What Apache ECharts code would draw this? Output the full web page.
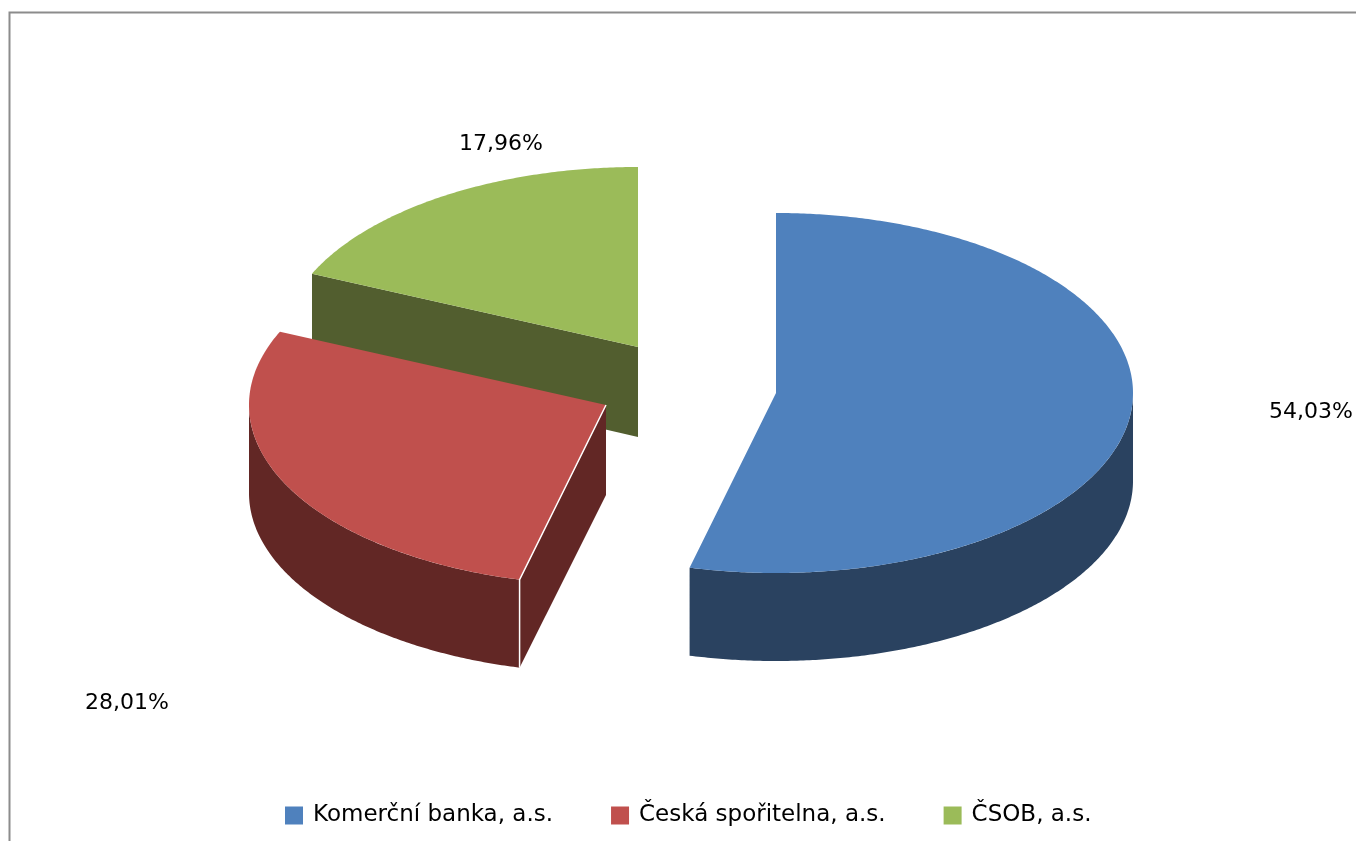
<!DOCTYPE html>
<html>
<head>
<meta charset="utf-8">
<style>html,body{margin:0;padding:0;background:#fff}#c{width:1356px;height:841px}</style>
<script src="https://cdn.jsdelivr.net/npm/echarts@6/dist/echarts.min.js"></script>
</head>
<body>
<div id="c"></div>
<script>
const categories = ['Komerční banka, a.s.', 'Česká spořitelna, a.s.', 'ČSOB, a.s.'];
const values = [54.03, 28.01, 17.96];
const topColors = ['#4F81BD', '#C0504D', '#9BBB59'];
const sideColors = ['#2A4260', '#622725', '#525E2F'];
const centers = [[776, 393], [606, 405], [638, 347]];
const labelAnchors = [[1311, 412], [127, 703], [501, 144]];
const edgeNudge = [0, -0.5, -1.3, 0];   // small 3-D view correction at each slice boundary, degrees
const RX = 357, RY = 180, DEPTH = 88, APEX_DEPTH = 90;
const FONT_FAMILY = 'DejaVu Sans', FONT_SIZE = 22, LEGEND_FONT_SIZE = 23;

const total = values.reduce((a, b) => a + b, 0);
const starts = [];
values.reduce((acc, v, i) => { starts[i] = acc; return acc + v; }, 0);

function pt(c, deg, dy) {
  const r = deg * Math.PI / 180;
  return [c[0] + RX * Math.sin(r), c[1] - RY * Math.cos(r) + (dy || 0)];
}
function arc(c, a0, a1, dy) {
  const out = [], n = Math.max(2, Math.ceil(Math.abs(a1 - a0) * 2));
  for (let k = 0; k <= n; k++) out.push(pt(c, a0 + (a1 - a0) * k / n, dy));
  return out;
}

function renderSlice(i) {
  return function () {
    const c = centers[i];
    const a0 = starts[i] / total * 360 + edgeNudge[i];
    const a1 = (starts[i] + values[i]) / total * 360 + edgeNudge[i + 1];
    const children = [];
    // curved outer wall: only the front half of the ellipse is visible
    const w0 = Math.max(a0, 90), w1 = Math.min(a1, 270);
    if (w1 > w0) {
      children.push({
        type: 'polygon', silent: true,
        shape: { points: arc(c, w0, w1, 0).concat(arc(c, w1, w0, DEPTH)) },
        style: { fill: sideColors[i] }
      });
    }
    // flat cut wall, where the slice's leading edge faces the viewer
    if (i > 0) {
      const p = pt(c, a0, 0);
      children.push({
        type: 'polygon', silent: true,
        shape: { points: [c, p, [p[0], p[1] + DEPTH], [c[0], c[1] + APEX_DEPTH]] },
        style: { fill: sideColors[i] }
      });
    }
    // top face
    children.push({
      type: 'polygon', silent: true,
      shape: { points: [c].concat(arc(c, a0, a1, 0)) },
      style: { fill: topColors[i] }
    });
    if (i === 1) {
      const p = pt(c, a0, 0);
      children.push({
        type: 'polyline', silent: true,
        shape: { points: [c, p, [p[0], p[1] + DEPTH]] },
        style: { stroke: '#fff', lineWidth: 1.5, fill: null }
      });
    }
    children.push({
      type: 'text', silent: true,
      style: {
        x: labelAnchors[i][0], y: labelAnchors[i][1],
        text: values[i].toFixed(2).replace('.', ',') + '%',
        fill: '#000', font: FONT_SIZE + 'px "' + FONT_FAMILY + '"',
        align: 'center', verticalAlign: 'middle'
      }
    });
    return { type: 'group', children };
  };
}

const series = [2, 1, 0].map(i => ({
  type: 'custom',
  name: categories[i],
  coordinateSystem: 'none',
  itemStyle: { color: topColors[i] },
  data: [values[i]],
  renderItem: renderSlice(i)
}));

const chart = echarts.init(document.getElementById('c'), null, { renderer: 'canvas' });
chart.setOption({
  animation: false,
  backgroundColor: '#fff',
  legend: {
    data: categories,
    left: 280, top: 799,
    itemWidth: 18, itemHeight: 18, itemGap: 58,
    icon: 'rect',
    selectedMode: false,
    textStyle: { color: '#000', fontFamily: FONT_FAMILY, fontSize: LEGEND_FONT_SIZE, padding: [0, 0, 0, 5] }
  },
  graphic: [{
    type: 'polyline', silent: true,
    shape: { points: [[9.5, 841], [9.5, 12.5], [1356, 12.5]] },
    style: { stroke: '#8C8C8C', lineWidth: 2, fill: null }
  }],
  series
});
</script>
</body>
</html>
